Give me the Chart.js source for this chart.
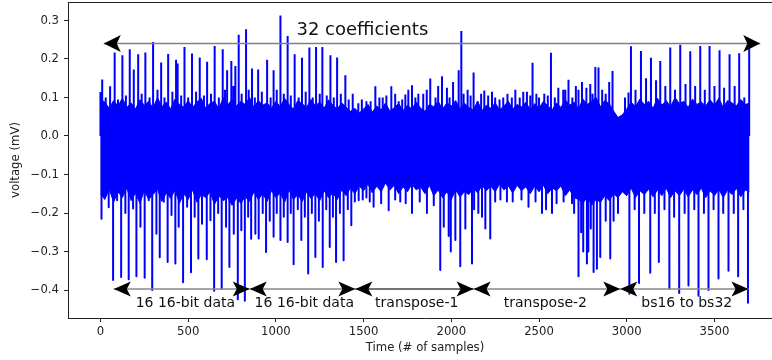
<!DOCTYPE html>
<html><head><meta charset="utf-8">
<script src="https://cdn.jsdelivr.net/npm/chart.js@4"></script>
<style>
html,body{margin:0;padding:0;overflow:hidden;background:#fff;}
#wrap{width:772px;height:360px;overflow:hidden;position:relative;}
canvas{display:block;}
</style></head><body>
<div id="wrap"><canvas id="c" width="800" height="360"></canvas></div>
<script>
// ---- data (samples, mV) ----
const bandX = [0,25,50,75,100,125,150,175,200,225,250,275,300,325,350,375,400,425,450,475,500,525,550,575,600,625,650,675,700,725,750,775,800,825,850,875,900,925,950,975,1000,1025,1050,1075,1100,1125,1150,1175,1200,1225,1250,1275,1300,1325,1350,1375,1400,1425,1450,1475,1500,1525,1550,1575,1600,1625,1650,1675,1700,1725,1750,1775,1800,1825,1850,1875,1900,1925,1950,1975,2000,2025,2050,2075,2100,2125,2150,2175,2200,2225,2250,2275,2300,2325,2350,2375,2400,2425,2450,2475,2500,2525,2550,2575,2600,2625,2650,2675,2700,2725,2750,2775,2800,2825,2850,2875,2900,2925,2950,2975,3000,3025,3050,3075,3100,3125,3150,3175,3200,3225,3250,3275,3300,3325,3350,3375,3400,3425,3450,3475,3500,3525,3550,3575,3600,3625,3650,3675,3700];
const bandHi = [0.095,0.088,0.072,0.092,0.078,0.098,0.074,0.086,0.07,0.094,
0.08,0.09,0.072,0.1,0.076,0.088,0.07,0.096,0.082,0.075,
0.092,0.074,0.088,0.098,0.072,0.085,0.09,0.07,0.1,0.08,
0.095,0.078,0.09,0.082,0.1,0.074,0.092,0.08,0.086,0.072,
0.09,0.076,0.098,0.082,0.07,0.092,0.084,0.074,0.095,0.078,
0.088,0.072,0.094,0.08,0.07,0.086,0.075,0.064,0.072,0.06,
0.07,0.082,0.062,0.078,0.068,0.086,0.064,0.074,0.084,0.066,
0.08,0.07,0.088,0.072,0.064,0.082,0.076,0.09,0.07,0.086,
0.078,0.092,0.07,0.085,0.074,0.068,0.09,0.066,0.08,0.072,
0.086,0.068,0.078,0.09,0.07,0.082,0.075,0.088,0.068,0.084,
0.072,0.09,0.078,0.068,0.086,0.074,0.094,0.08,0.088,0.07,
0.096,0.082,0.09,0.1,0.076,0.092,0.084,0.065,0.048,0.055,
0.07,0.088,0.076,0.096,0.082,0.09,0.072,0.098,0.08,0.092,
0.076,0.1,0.084,0.09,0.074,0.096,0.082,0.088,0.078,0.094,
0.08,0.098,0.074,0.092,0.086,0.078,0.095,0.082,0.085];
const bandLo = [-0.15,-0.165,-0.138,-0.172,-0.145,-0.16,-0.135,-0.168,-0.148,-0.175,
-0.142,-0.165,-0.152,-0.138,-0.17,-0.148,-0.162,-0.14,-0.175,-0.15,
-0.165,-0.14,-0.172,-0.152,-0.16,-0.145,-0.178,-0.155,-0.168,-0.16,
-0.18,-0.162,-0.175,-0.158,-0.17,-0.145,-0.165,-0.15,-0.17,-0.142,
-0.16,-0.148,-0.172,-0.14,-0.165,-0.152,-0.17,-0.145,-0.162,-0.15,
-0.168,-0.142,-0.16,-0.148,-0.165,-0.14,-0.155,-0.135,-0.15,-0.13,
-0.142,-0.125,-0.148,-0.13,-0.145,-0.122,-0.14,-0.128,-0.15,-0.132,
-0.145,-0.125,-0.14,-0.132,-0.15,-0.128,-0.155,-0.14,-0.16,-0.145,
-0.165,-0.14,-0.158,-0.145,-0.152,-0.135,-0.148,-0.128,-0.142,-0.13,
-0.145,-0.125,-0.14,-0.13,-0.148,-0.128,-0.142,-0.132,-0.15,-0.13,
-0.145,-0.128,-0.15,-0.135,-0.142,-0.13,-0.155,-0.14,-0.16,-0.165,
-0.175,-0.158,-0.18,-0.165,-0.172,-0.155,-0.168,-0.15,-0.16,-0.145,
-0.155,-0.135,-0.16,-0.142,-0.152,-0.138,-0.158,-0.14,-0.155,-0.135,
-0.16,-0.142,-0.155,-0.138,-0.158,-0.14,-0.152,-0.135,-0.16,-0.142,
-0.155,-0.138,-0.16,-0.14,-0.152,-0.136,-0.158,-0.14,-0.145];

const upSpikes = [[0,0.114],[10,0.147],[55,0.129],[81,0.217],[125,0.21],[167,0.225],[190,0.173],[215,0.212],[256,0.217],[300,0.244],[346,0.191],[386,0.213],[431,0.198],[440,0.188],[479,0.231],[522,0.214],[566,0.204],[608,0.193],[651,0.234],[697,0.225],[722,0.171],[746,0.195],[769,0.182],[788,0.263],[830,0.277],[864,0.175],[899,0.173],[950,0.198],[987,0.171],[1026,0.313],[1067,0.26],[1107,0.212],[1149,0.203],[1191,0.23],[1229,0.231],[1265,0.231],[1311,0.21],[1349,0.204],[1396,0.158],[1438,0.11],[1516,0.09],[1567,0.129],[1609,0.1],[1658,0.129],[1700,0.09],[1738,0.108],[1776,0.132],[1812,0.11],[1880,0.149],[1947,0.155],[1975,0.125],[2042,0.171],[2057,0.273],[2093,0.12],[2127,0.165],[2188,0.118],[2232,0.115],[2296,0.1],[2365,0.12],[2431,0.115],[2463,0.19],[2568,0.216],[2638,0.12],[2668,0.146],[2745,0.14],[2792,0.135],[2821,0.179],[2839,0.178],[2919,0.169],[3010,0.113],[3024,0.233],[3081,0.221],[3138,0.203],[3167,0.145],[3191,0.195],[3248,0.23],[3305,0.237],[3362,0.22],[3419,0.234],[3472,0.234],[3529,0.223],[3586,0.212],[3641,0.215],[3698,0.23],
[30,0.1],[100,0.095],[145,0.105],[235,0.11],[280,0.1],[325,0.12],[365,0.1],[410,0.115],[460,0.105],[500,0.1],[545,0.115],[590,0.105],[630,0.11],[675,0.1],[710,0.12],[758,0.13],[805,0.11],[845,0.12],[880,0.1],[920,0.115],[970,0.1],[1005,0.12],[1045,0.11],[1085,0.105],[1130,0.1],[1170,0.115],[1210,0.1],[1250,0.11],[1290,0.105],[1330,0.1],[1370,0.11],[1415,0.095],[1470,0.085],[1490,0.095],[1540,0.09],[1590,0.1],[1630,0.105],[1680,0.11],[1720,0.095],[1755,0.12],[1795,0.1],[1840,0.11],[1860,0.12],[1910,0.1],[1925,0.13],[1990,0.1],[2010,0.14],[2070,0.11],[2110,0.105],[2150,0.09],[2170,0.11],[2210,0.105],[2250,0.1],[2275,0.095],[2320,0.11],[2345,0.1],[2390,0.1],[2410,0.115],[2450,0.105],[2485,0.11],[2500,0.1],[2530,0.11],[2550,0.105],[2590,0.1],[2610,0.125],[2650,0.12],[2690,0.1],[2710,0.13],[2725,0.12],[2770,0.125],[2805,0.11],[2860,0.12],[2880,0.11],[2900,0.14],[2990,0.1],[3050,0.12],[3110,0.15],[3220,0.13],[3275,0.12],[3335,0.135],[3390,0.13],[3445,0.12],[3500,0.13],[3555,0.125],[3615,0.13],[3670,0.1]];

const downSpikes = [[6,-0.215],[72,-0.374],[118,-0.366],[161,-0.372],[205,-0.364],[252,-0.368],[295,-0.4],[338,-0.315],[383,-0.327],[427,-0.331],[471,-0.38],[516,-0.354],[558,-0.318],[606,-0.32],[648,-0.402],[691,-0.397],[735,-0.34],[783,-0.424],[823,-0.428],[859,-0.267],[902,-0.266],[944,-0.301],[987,-0.262],[1026,-0.27],[1067,-0.275],[1101,-0.333],[1145,-0.27],[1184,-0.357],[1225,-0.314],[1267,-0.34],[1307,-0.288],[1343,-0.327],[1386,-0.323],[1430,-0.232],[1472,-0.167],[1516,-0.16],[1557,-0.184],[1643,-0.193],[1709,-0.17],[1776,-0.2],[1861,-0.2],[1937,-0.348],[1957,-0.236],[1985,-0.26],[1997,-0.3],[2023,-0.27],[2051,-0.338],[2080,-0.24],[2118,-0.331],[2154,-0.2],[2194,-0.24],[2222,-0.266],[2317,-0.17],[2440,-0.184],[2517,-0.2],[2574,-0.2],[2688,-0.175],[2725,-0.364],[2752,-0.3],[2773,-0.331],[2781,-0.3],[2811,-0.353],[2830,-0.345],[2849,-0.314],[2906,-0.318],[2925,-0.22],[3015,-0.41],[3070,-0.382],[3134,-0.355],[3183,-0.327],[3243,-0.397],[3299,-0.408],[3352,-0.388],[3409,-0.415],[3466,-0.4],[3523,-0.37],[3580,-0.35],[3635,-0.364],[3691,-0.433],
[47,-0.185],[95,-0.167],[142,-0.2],[186,-0.188],[228,-0.236],[275,-0.167],[319,-0.254],[361,-0.171],[405,-0.205],[446,-0.236],[494,-0.184],[537,-0.21],[579,-0.228],[627,-0.219],[671,-0.2],[716,-0.236],[760,-0.254],[803,-0.245],[842,-0.21],[883,-0.254],[925,-0.2],[965,-0.22],[1005,-0.2],[1045,-0.21],[1085,-0.2],[1125,-0.19],[1165,-0.21],[1205,-0.2],[1245,-0.22],[1287,-0.19],[1325,-0.21],[1365,-0.2],[1410,-0.19],[1450,-0.17],[1495,-0.165],[1535,-0.17],[1600,-0.175],[1680,-0.165],[1740,-0.175],[1820,-0.17],[1900,-0.18],[2130,-0.19],[2175,-0.21],[2250,-0.17],[2280,-0.165],[2350,-0.17],[2400,-0.165],[2480,-0.17],[2540,-0.19],[2600,-0.175],[2640,-0.17],[2700,-0.2],[2740,-0.25],[2795,-0.24],[2880,-0.22],[2950,-0.2],[3045,-0.19],[3100,-0.2],[3160,-0.2],[3215,-0.19],[3270,-0.21],[3330,-0.2],[3385,-0.19],[3440,-0.2],[3495,-0.19],[3550,-0.2],[3610,-0.2],[3665,-0.19]];

const xTicks = [0,500,1000,1500,2000,2500,3000,3500];
const yTicks = [-0.4,-0.3,-0.2,-0.1,0.0,0.1,0.2,0.3];

// annotations
const topArrowX = [19, 3761];
const topArrowY = 0.24;
const topLabel = '32 coefficients';
const topLabelPos = [1493, 0.2745];
const segArrows = [[76,851],[851,1453],[1453,2127],[2127,2963],[2963,3694]];
const segColors = ['#888888','#888888','#444444','#888888','#888888'];
const segArrowY = -0.3974;
const segLabels = ['16 16-bit data','16 16-bit data','transpose-1','transpose-2','bs16 to bs32'];
const segLabelX = [484,1162,1803,2536,3342];
const segLabelY = -0.4345;

// ---- build ----
const FONT = "'DejaVu Sans'";
const BLUE = '#0000ff';
const hiPts = bandX.map((x,i)=>({x, y: bandHi[i]}));
const loPts = bandX.map((x,i)=>({x, y: bandLo[i]}));
const spikePts = [];
upSpikes.concat(downSpikes).sort((a,b)=>a[0]-b[0]).forEach(([x,y])=>{
  spikePts.push({x, y:0},{x, y},{x, y:null});
});

function head(ctx, x, y, dir, len, half, notch){
  ctx.beginPath();
  ctx.moveTo(x, y);
  ctx.lineTo(x - dir*len, y - half);
  ctx.lineTo(x - dir*notch, y);
  ctx.lineTo(x - dir*len, y + half);
  ctx.closePath();
  ctx.fill();
}

const framePlugin = {
  id:'frame',
  afterDatasetsDraw(chart){
    const {ctx, chartArea:a, scales:{x, y}} = chart;
    ctx.save();
    ctx.strokeStyle = '#222'; ctx.lineWidth = 1;
    ctx.beginPath();
    ctx.moveTo(a.left, Math.round(a.top)+0.5);
    ctx.lineTo(a.right, Math.round(a.top)+0.5);
    ctx.lineTo(a.right, a.bottom);
    ctx.stroke();
    const ty = y.getPixelForValue(topArrowY);
    const tx1 = x.getPixelForValue(topArrowX[0]), tx2 = x.getPixelForValue(topArrowX[1]);
    ctx.strokeStyle = '#808080'; ctx.lineWidth = 1.5;
    ctx.beginPath(); ctx.moveTo(tx1, ty); ctx.lineTo(tx2, ty); ctx.stroke();
    ctx.fillStyle = '#000';
    head(ctx, tx1, ty, -1, 17, 8.5, 13);
    head(ctx, tx2, ty, 1, 17, 8.5, 13);
    const sy = y.getPixelForValue(segArrowY);
    segArrows.forEach(([a1,a2],i)=>{
      const p1 = x.getPixelForValue(a1), p2 = x.getPixelForValue(a2);
      ctx.strokeStyle = segColors[i]; ctx.lineWidth = 1.5;
      ctx.beginPath(); ctx.moveTo(p1, sy); ctx.lineTo(p2, sy); ctx.stroke();
    });
    ctx.fillStyle = '#000';
    segArrows.forEach(([a1,a2])=>{
      const p1 = x.getPixelForValue(a1), p2 = x.getPixelForValue(a2);
      head(ctx, p1, sy, -1, 17, 7.5, 13);
      head(ctx, p2, sy, 1, 17, 7.5, 13);
    });
    ctx.textAlign = 'center'; ctx.textBaseline = 'middle';
    ctx.fillStyle = '#111';
    ctx.font = '18px ' + FONT;
    ctx.fillText(topLabel, x.getPixelForValue(topLabelPos[0]), y.getPixelForValue(topLabelPos[1]));
    ctx.font = '14px ' + FONT;
    segLabels.forEach((t,i)=>{
      ctx.fillText(t, x.getPixelForValue(segLabelX[i]), y.getPixelForValue(segLabelY));
    });
    ctx.restore();
  }
};

const tickFont = {family:"DejaVu Sans", size:11.7};
new Chart(document.getElementById('c'), {
  type:'line',
  data:{datasets:[
    {data:hiPts, borderColor:BLUE, backgroundColor:BLUE, borderWidth:1, pointRadius:0, fill:'+1', tension:0},
    {data:loPts, borderColor:BLUE, backgroundColor:BLUE, borderWidth:1, pointRadius:0, fill:false, tension:0},
    {data:spikePts, borderColor:BLUE, borderWidth:2, pointRadius:0, fill:false, spanGaps:false, tension:0, borderJoinStyle:'round'}
  ]},
  options:{
    responsive:false, animation:false, devicePixelRatio:1,
    layout:{padding:{top:2, right:18, left:0, bottom:0}},
    plugins:{legend:{display:false}, tooltip:{enabled:false}},
    scales:{
      x:{type:'linear', min:-185, max:3885,
        afterFit(s){ s.height = 42; s.paddingLeft = 0; s.paddingRight = 0; s.paddingTop = 0; s.paddingBottom = 0; },
        afterBuildTicks(s){ s.ticks = xTicks.map(v=>({value:v})); },
        ticks:{font:tickFont, color:'#222', padding:3, maxRotation:0, autoSkip:false, callback:v=>String(v)},
        grid:{drawOnChartArea:false, tickLength:4, color:'#222', lineWidth:1},
        border:{color:'#222', width:1},
        title:{display:true, text:'Time (# of samples)', font:tickFont, color:'#222', padding:{top:0, bottom:4.7}}
      },
      y:{type:'linear', min:-0.4727, max:0.348,
        afterFit(s){ s.width = 68; s.paddingTop = 0; s.paddingBottom = 0; s.paddingLeft = 0; s.paddingRight = 0; },
        afterBuildTicks(s){ s.ticks = yTicks.map(v=>({value:v})); },
        ticks:{font:tickFont, color:'#222', padding:5, autoSkip:false, callback:v=>(v < -1e-9 ? '\u2212' : '') + Math.abs(v).toFixed(1)},
        grid:{drawOnChartArea:false, tickLength:4, color:'#222', lineWidth:1},
        border:{color:'#222', width:1},
        title:{display:true, text:'voltage (mV)', font:tickFont, color:'#222', padding:{top:9, bottom:0}}
      }
    }
  },
  plugins:[framePlugin]
});
</script>
</body></html>
